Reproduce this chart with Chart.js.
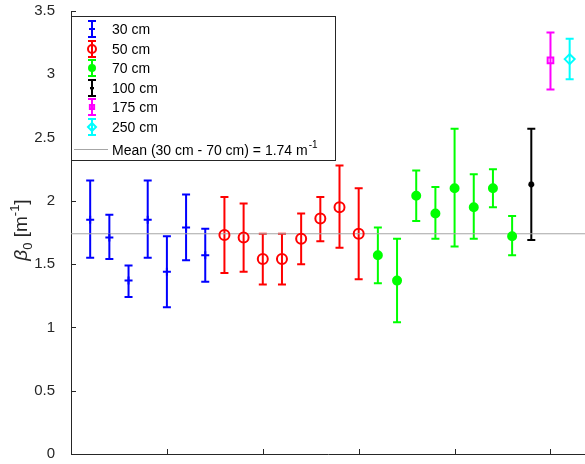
<!DOCTYPE html>
<html>
<head>
<meta charset="utf-8">
<script src="https://cdn.jsdelivr.net/npm/chart.js@4/dist/chart.umd.min.js"></script>
<style>
  html, body { margin: 0; padding: 0; background: #fff; }
  #wrap { width: 585px; height: 464px; position: relative; }
</style>
</head>
<body>
<div id="wrap"><canvas id="mainChart"></canvas></div>
<script>
// series labels
const seriesNames = ['30 cm', '50 cm', '70 cm', '100 cm', '175 cm', '250 cm'];

// beta_0 values and error bar ends, per depth
const val30 = [1.85, 1.71, 1.37, 1.85, 1.44, 1.79, 1.57];
const lo30  = [1.55, 1.54, 1.24, 1.55, 1.16, 1.53, 1.36];
const hi30  = [2.16, 1.89, 1.49, 2.16, 1.72, 2.05, 1.78];

const val50 = [1.73, 1.71, 1.54, 1.54, 1.70, 1.86, 1.95, 1.74];
const lo50  = [1.43, 1.44, 1.34, 1.34, 1.50, 1.68, 1.63, 1.38];
const hi50  = [2.03, 1.98, 1.74, 1.74, 1.90, 2.03, 2.28, 2.10];

const val70 = [1.57, 1.37, 2.04, 1.90, 2.10, 1.95, 2.10, 1.72];
const lo70  = [1.35, 1.04, 1.84, 1.70, 1.64, 1.70, 1.95, 1.57];
const hi70  = [1.79, 1.70, 2.24, 2.11, 2.57, 2.21, 2.25, 1.88];

const val100 = [2.13];
const lo100  = [1.69];
const hi100  = [2.57];

const val175 = [3.11];
const lo175  = [2.88];
const hi175  = [3.33];

const val250 = [3.12];
const lo250  = [2.96];
const hi250  = [3.28];

const meanValue = 1.74;
const meanLabel = 'Mean (30 cm - 70 cm) = 1.74 m';

const yTicks = [0, 0.5, 1, 1.5, 2, 2.5, 3, 3.5];
const xTicks = [5, 10, 15, 20, 25];

document.addEventListener('DOMContentLoaded', function () {
    const axisColor = '#262626';
    const fontName = '"Liberation Sans", Arial, Helvetica, sans-serif';

    const styles = [
        { color: '#0000ff', pointStyle: 'cross',   radius: 4, fill: false },
        { color: '#ff0000', pointStyle: 'circle',  radius: 5, fill: false },
        { color: '#00ff00', pointStyle: 'circle',  radius: 4, fill: true },
        { color: '#000000', pointStyle: 'star',    radius: 3, fill: false },
        { color: '#ff00ff', pointStyle: 'rect',    radius: 4, fill: false },
        { color: '#00ffff', pointStyle: 'rectRot', radius: 5, fill: false }
    ];
    const groups = [
        [val30, lo30, hi30], [val50, lo50, hi50], [val70, lo70, hi70],
        [val100, lo100, hi100], [val175, lo175, hi175], [val250, lo250, hi250]
    ];

    // points are numbered one after another across all groups
    let n = 0;
    const datasets = groups.map((g, i) => {
        const pts = g[0].map((v, j) => {
            n++;
            return { x: n, y: v, lo: g[1][j], hi: g[2][j] };
        });
        const s = styles[i];
        return {
            type: 'scatter',
            label: seriesNames[i],
            data: pts,
            pointStyle: s.pointStyle,
            pointRadius: s.radius,
            pointBorderWidth: 2,
            borderColor: s.color,
            backgroundColor: s.fill ? s.color : 'rgba(0,0,0,0)',
            order: 1
        };
    });

    const xMin = 0, xMax = 26.8;
    datasets.push({
        type: 'line',
        label: 'mean',
        data: [{ x: xMin, y: meanValue }, { x: xMax, y: meanValue }],
        borderColor: '#a6a6a6',
        borderWidth: 1,
        pointRadius: 0,
        order: 2
    });

    const errorBars = {
        id: 'errorBars',
        beforeDatasetsDraw(chart) {
            const ctx = chart.ctx;
            const xs = chart.scales.x, ys = chart.scales.y;
            ctx.save();
            ctx.lineWidth = 2;
            chart.data.datasets.forEach((ds) => {
                if (ds.type !== 'scatter') return;
                ctx.strokeStyle = ds.borderColor;
                ds.data.forEach((p) => {
                    const px = xs.getPixelForValue(p.x);
                    const y1 = ys.getPixelForValue(p.lo);
                    const y2 = ys.getPixelForValue(p.hi);
                    ctx.beginPath();
                    ctx.moveTo(px, y1); ctx.lineTo(px, y2);
                    ctx.moveTo(px - 4, y1); ctx.lineTo(px + 4, y1);
                    ctx.moveTo(px - 4, y2); ctx.lineTo(px + 4, y2);
                    ctx.stroke();
                });
            });
            ctx.restore();
        }
    };

    const axesDecor = {
        id: 'axesDecor',
        afterDraw(chart) {
            const ctx = chart.ctx;
            const xs = chart.scales.x, ys = chart.scales.y;
            const area = chart.chartArea;
            ctx.save();

            // inward tick marks
            ctx.strokeStyle = axisColor;
            ctx.lineWidth = 1;
            ctx.beginPath();
            yTicks.forEach(v => {
                const py = Math.round(ys.getPixelForValue(v)) + 0.5;
                ctx.moveTo(area.left, py); ctx.lineTo(area.left + 5, py);
            });
            xTicks.forEach(v => {
                const px = Math.round(xs.getPixelForValue(v)) + 0.5;
                ctx.moveTo(px, area.bottom); ctx.lineTo(px, area.bottom - 5);
            });
            ctx.stroke();

            // legend box
            const bx = area.left, by = 16, bw = 264, bh = 144;
            ctx.fillStyle = '#ffffff';
            ctx.fillRect(bx, by, bw, bh);
            ctx.strokeStyle = axisColor;
            ctx.strokeRect(bx + 0.5, by + 0.5, bw, bh);

            ctx.font = '14px ' + fontName;
            ctx.textBaseline = 'middle';
            ctx.textAlign = 'left';
            const rowY = [29, 49, 68, 88, 107, 127];
            seriesNames.forEach((name, i) => {
                const s = styles[i];
                const cx = 92, cy = rowY[i];
                ctx.strokeStyle = s.color;
                ctx.lineWidth = 2;
                ctx.beginPath();
                ctx.moveTo(cx, cy - 8); ctx.lineTo(cx, cy + 8);
                ctx.moveTo(cx - 4, cy - 8); ctx.lineTo(cx + 4, cy - 8);
                ctx.moveTo(cx - 4, cy + 8); ctx.lineTo(cx + 4, cy + 8);
                ctx.stroke();
                ctx.fillStyle = s.fill ? s.color : 'rgba(0,0,0,0)';
                Chart.helpers.drawPoint(ctx, {
                    pointStyle: s.pointStyle, radius: s.radius - 1, borderWidth: 2, rotation: 0
                }, cx, cy);
                ctx.fillStyle = '#000000';
                ctx.fillText(name, 112, cy + 1);
            });

            // mean entry
            ctx.strokeStyle = '#a6a6a6';
            ctx.lineWidth = 1;
            ctx.beginPath();
            ctx.moveTo(74, 149.5); ctx.lineTo(108, 149.5);
            ctx.stroke();
            ctx.fillStyle = '#000000';
            ctx.fillText(meanLabel, 112, 151);
            const mw = ctx.measureText(meanLabel).width;
            ctx.font = '10px ' + fontName;
            ctx.fillText('-1', 112 + mw + 1, 145);

            // y axis title: beta_0 [m^-1]
            ctx.translate(20, 230);
            ctx.rotate(-Math.PI / 2);
            ctx.fillStyle = axisColor;
            ctx.textBaseline = 'alphabetic';
            const parts = [
                { t: '\u03b2', f: 'italic 19px ' + fontName, dy: 0 },
                { t: '0', f: '13px ' + fontName, dy: 5 },
                { t: ' [m', f: '19px ' + fontName, dy: 0 },
                { t: '-1', f: '13px ' + fontName, dy: -8 },
                { t: ']', f: '19px ' + fontName, dy: 0 }
            ];
            let total = 0;
            parts.forEach(p => { ctx.font = p.f; p.w = ctx.measureText(p.t).width; total += p.w; });
            let x = -total / 2;
            parts.forEach(p => {
                ctx.font = p.f;
                ctx.fillText(p.t, x, 7 + p.dy);
                x += p.w;
            });
            ctx.restore();
        }
    };

    const ctx = document.getElementById('mainChart').getContext('2d');
    new Chart(ctx, {
        data: { datasets: datasets },
        options: {
            responsive: true,
            maintainAspectRatio: false,
            animation: false,
            layout: { autoPadding: false, padding: { left: 0, top: 11, right: 0, bottom: 0 } },
            plugins: {
                legend: { display: false },
                tooltip: { enabled: false }
            },
            scales: {
                x: {
                    type: 'linear',
                    min: xMin,
                    max: xMax,
                    grid: { display: false },
                    border: { display: true, color: axisColor, width: 1 },
                    ticks: { display: false },
                    afterBuildTicks: (scale) => { scale.ticks = xTicks.map(v => ({ value: v })); },
                    afterFit: (scale) => {
                        scale.height = 10;
                        scale.paddingLeft = 0;
                        scale.paddingRight = 0;
                    }
                },
                y: {
                    min: 0,
                    max: 3.5,
                    grid: { display: false },
                    border: { display: true, color: axisColor, width: 1 },
                    afterBuildTicks: (scale) => { scale.ticks = yTicks.map(v => ({ value: v })); },
                    ticks: {
                        color: axisColor,
                        padding: 8,
                        font: { size: 15, family: fontName },
                        callback: (v) => String(v)
                    },
                    afterFit: (scale) => {
                        scale.width = 71;
                        scale.paddingTop = 0;
                        scale.paddingBottom = 0;
                    }
                }
            }
        },
        plugins: [errorBars, axesDecor]
    });
});
</script>
</body>
</html>
